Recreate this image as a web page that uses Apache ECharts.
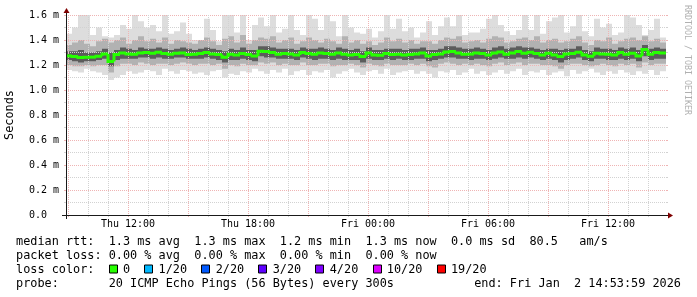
<!DOCTYPE html>
<html><head><meta charset="utf-8">
<script src="https://cdn.jsdelivr.net/npm/echarts@6/dist/echarts.min.js"></script>
<style>html,body{margin:0;padding:0;background:#fff}#c{width:697px;height:297px}</style>
</head><body><div id="c"></div>
<script>
// ---------- time frame (hours since Thu 00:00) ----------
const startHour = 8 + 53 / 60 + 59 / 3600;   // Thu 08:53:59
const spanHours = 30;                         // graph covers 30 h
const binHours = 0.3;                         // one smoke column = 18 min

// ---------- data (milliseconds) ----------
const medianMs = [
  1.273,1.268,1.260,1.263,1.263,1.271,1.289,1.228,1.284,1.297,1.289,1.287,1.297,1.300,1.295,1.303,1.292,1.287,1.295,1.297,
  1.284,1.287,1.292,1.300,1.289,1.284,1.263,1.287,1.281,1.292,1.284,1.273,1.311,1.308,1.300,1.287,1.292,1.289,1.281,1.300,
  1.292,1.287,1.297,1.292,1.287,1.297,1.287,1.281,1.284,1.268,1.297,1.281,1.279,1.292,1.284,1.287,1.281,1.284,1.289,1.297,
  1.273,1.284,1.289,1.305,1.308,1.297,1.287,1.287,1.297,1.292,1.281,1.297,1.305,1.287,1.297,1.308,1.295,1.303,1.292,1.281,
  1.295,1.281,1.268,1.289,1.292,1.303,1.281,1.271,1.295,1.289,1.287,1.281,1.300,1.287,1.295,1.273,1.324,1.287,1.300,1.297
];
const maxMs = [
  1.45,1.50,1.60,1.60,1.44,1.50,1.43,1.42,1.44,1.52,1.49,1.60,1.55,1.50,1.52,1.47,1.60,1.45,1.47,1.54,
  1.45,1.40,1.38,1.57,1.48,1.39,1.60,1.60,1.46,1.60,1.40,1.52,1.58,1.51,1.60,1.46,1.49,1.60,1.48,1.44,
  1.60,1.57,1.48,1.60,1.55,1.43,1.60,1.50,1.46,1.45,1.49,1.42,1.47,1.60,1.49,1.57,1.47,1.50,1.42,1.46,
  1.55,1.44,1.51,1.58,1.51,1.60,1.44,1.46,1.46,1.49,1.57,1.60,1.52,1.47,1.44,1.48,1.60,1.48,1.60,1.45,
  1.55,1.58,1.60,1.46,1.51,1.60,1.47,1.43,1.57,1.50,1.53,1.44,1.46,1.60,1.58,1.52,1.44,1.48,1.57,1.42
];
const hi2Ms = [
  1.36,1.38,1.40,1.37,1.35,1.39,1.41,1.38,1.40,1.42,1.37,1.40,1.43,1.39,1.41,1.38,1.42,1.37,1.40,1.39,
  1.38,1.37,1.40,1.42,1.39,1.36,1.41,1.43,1.38,1.44,1.37,1.40,1.42,1.41,1.43,1.38,1.40,1.42,1.37,1.39,
  1.42,1.40,1.38,1.41,1.39,1.37,1.43,1.38,1.40,1.37,1.39,1.36,1.38,1.42,1.39,1.41,1.38,1.40,1.37,1.39,
  1.39,1.37,1.40,1.42,1.41,1.43,1.38,1.39,1.40,1.38,1.41,1.43,1.42,1.38,1.39,1.41,1.42,1.40,1.43,1.38,
  1.40,1.41,1.38,1.39,1.41,1.43,1.38,1.36,1.40,1.39,1.42,1.37,1.39,1.41,1.42,1.40,1.43,1.39,1.41,1.38
];
const hi3Ms = [
  1.31,1.31,1.32,1.30,1.30,1.31,1.33,1.30,1.32,1.34,1.33,1.32,1.34,1.33,1.33,1.34,1.33,1.32,1.33,1.34,
  1.33,1.32,1.33,1.34,1.33,1.32,1.31,1.33,1.32,1.34,1.32,1.32,1.35,1.35,1.34,1.33,1.33,1.33,1.32,1.34,
  1.33,1.33,1.34,1.33,1.32,1.34,1.33,1.32,1.33,1.31,1.34,1.32,1.32,1.33,1.33,1.33,1.32,1.33,1.33,1.34,
  1.32,1.32,1.33,1.35,1.35,1.34,1.33,1.33,1.34,1.33,1.32,1.34,1.35,1.33,1.34,1.35,1.34,1.34,1.33,1.32,
  1.33,1.33,1.32,1.33,1.33,1.35,1.32,1.31,1.34,1.33,1.33,1.32,1.34,1.33,1.34,1.32,1.36,1.33,1.34,1.33
];
const lo3Ms = [
  1.24,1.23,1.22,1.23,1.23,1.24,1.25,1.19,1.24,1.25,1.25,1.25,1.26,1.26,1.25,1.26,1.25,1.25,1.26,1.26,
  1.25,1.25,1.25,1.26,1.25,1.24,1.22,1.24,1.24,1.25,1.24,1.23,1.27,1.26,1.26,1.25,1.25,1.25,1.24,1.26,
  1.25,1.24,1.25,1.25,1.24,1.25,1.24,1.24,1.24,1.22,1.25,1.24,1.24,1.25,1.24,1.25,1.24,1.24,1.25,1.25,
  1.23,1.24,1.25,1.26,1.26,1.25,1.25,1.24,1.25,1.25,1.24,1.25,1.26,1.25,1.25,1.26,1.25,1.26,1.25,1.24,
  1.25,1.24,1.22,1.24,1.25,1.26,1.24,1.23,1.25,1.25,1.24,1.24,1.25,1.24,1.25,1.23,1.27,1.24,1.25,1.25
];
const lo2Ms = [
  1.20,1.19,1.19,1.20,1.19,1.20,1.20,1.14,1.19,1.21,1.21,1.20,1.22,1.21,1.20,1.21,1.21,1.20,1.21,1.22,
  1.21,1.20,1.21,1.21,1.20,1.21,1.17,1.20,1.19,1.21,1.20,1.20,1.22,1.21,1.22,1.20,1.21,1.20,1.20,1.22,
  1.20,1.20,1.21,1.21,1.19,1.20,1.20,1.21,1.20,1.18,1.21,1.20,1.19,1.21,1.20,1.20,1.20,1.21,1.20,1.21,
  1.19,1.18,1.21,1.22,1.21,1.20,1.21,1.20,1.21,1.20,1.19,1.21,1.22,1.20,1.21,1.22,1.20,1.21,1.21,1.20,
  1.20,1.19,1.17,1.20,1.21,1.21,1.20,1.19,1.20,1.21,1.20,1.19,1.21,1.20,1.21,1.18,1.22,1.20,1.21,1.21
];
const minMs = [
  1.16,1.15,1.14,1.17,1.15,1.14,1.12,1.08,1.10,1.12,1.15,1.13,1.14,1.16,1.15,1.12,1.17,1.15,1.13,1.16,
  1.15,1.13,1.14,1.12,1.15,1.16,1.10,1.13,1.12,1.15,1.14,1.17,1.15,1.13,1.16,1.14,1.17,1.12,1.15,1.16,
  1.12,1.15,1.14,1.16,1.10,1.13,1.15,1.17,1.14,1.12,1.15,1.16,1.13,1.17,1.12,1.14,1.15,1.16,1.13,1.15,
  1.13,1.10,1.15,1.14,1.16,1.12,1.14,1.17,1.13,1.15,1.12,1.14,1.16,1.13,1.15,1.17,1.12,1.15,1.14,1.16,
  1.12,1.14,1.15,1.11,1.16,1.13,1.15,1.17,1.14,1.12,1.15,1.13,1.16,1.14,1.12,1.15,1.13,1.16,1.12,1.15
];

// ---------- axis ticks ----------
const xLabelHours = [12, 18, 24, 30, 36];
const xLabels = ['Thu 12:00', 'Thu 18:00', 'Fri 00:00', 'Fri 06:00', 'Fri 12:00'];
const xMajorHours = [9, 12, 15, 18, 21, 24, 27, 30, 33, 36];
const xMinorHours = [10, 11, 13, 14, 16, 17, 19, 20, 22, 23, 25, 26, 28, 29, 31, 32, 34, 35, 37, 38];
const yMax = 1.6, yStep = 0.2;

// ---------- legend texts ----------
const yTitle = 'Seconds';
const watermark = 'RRDTOOL / TOBI OETIKER';
const statsLine = 'median rtt:  1.3 ms avg  1.3 ms max  1.2 ms min  1.3 ms now  0.0 ms sd  80.5   am/s';
const lossLine = 'packet loss: 0.00 % avg  0.00 % max  0.00 % min  0.00 % now';
const lossColorTitle = 'loss color:';
const lossLabels = ['0', '1/20', '2/20', '3/20', '4/20', '10/20', '19/20'];
const lossColors = ['#26ff00', '#00b8ff', '#0059ff', '#5e00ff', '#7e00ff', '#dd00ff', '#ff0000'];
const probeLine = 'probe:       20 ICMP Echo Pings (56 Bytes) every 300s';
const endLine = 'end: Fri Jan  2 14:53:59 2026';

// ---------- layout ----------
const GL = 66, GT = 15, GW = 600, GH = 200;
const MONO = '"DejaVu Sans Mono", monospace';
const AX_FS = 10, LEG_FS = 11.85;
const MAJOR_COL = '#efb4b4', MINOR_COL = '#d2d2d2';

const mctx = document.createElement('canvas').getContext('2d');
mctx.font = LEG_FS + 'px ' + MONO;
const CW = mctx.measureText('0000000000').width / 10;

const chart = echarts.init(document.getElementById('c'), null, {renderer: 'canvas'});

const smokeData = medianMs.map((m, i) => [startHour + i * binHours, minMs[i], lo2Ms[i], lo3Ms[i], hi3Ms[i], hi2Ms[i], maxMs[i]]);
const medData = medianMs.map((m, i) => [startHour + i * binHours, m]);

function smokeItem(params, api) {
  const t0 = api.value(0), t1 = t0 + binHours;
  const pairs = [[1, 6, '#dddddd'], [2, 5, '#b2b2b2'], [3, 4, '#5c5c5c']];
  return {
    type: 'group',
    children: pairs.map(([a, b, c]) => {
      const p0 = api.coord([t0, api.value(b)]);
      const p1 = api.coord([t1, api.value(a)]);
      return {type: 'rect', shape: {x: p0[0], y: p0[1], width: p1[0] - p0[0], height: p1[1] - p0[1]}, style: {fill: c}};
    })
  };
}
function medItem(params, api) {
  const i = params.dataIndex;
  const t0 = api.value(0), t1 = t0 + binHours, m = api.value(1);
  const prev = i > 0 ? medianMs[i - 1] : m;
  const a = api.coord([t0, prev]), b = api.coord([t0, m]), c = api.coord([t1, m]);
  return {type: 'polyline', shape: {points: [a, b, c]},
    style: {stroke: lossColors[0], lineWidth: 3, fill: null, lineCap: 'butt', lineJoin: 'miter'}};
}

const gridAxisCommon = {
  type: 'value', min: startHour, max: startHour + spanHours, position: 'bottom',
  axisLine: {show: false}, axisLabel: {show: false}, z: 5
};

// legend graphics
const graphics = [];
const rows = [241.5, 255.5, 269.5, 283.5];
const txt = (x, y, s, extra) => Object.assign({type: 'text', x, y, z: 100,
  style: {text: s, font: LEG_FS + 'px ' + MONO, fill: '#000', textAlign: 'left', textVerticalAlign: 'middle'}}, extra || {});
graphics.push(txt(16, rows[0], statsLine));
graphics.push(txt(16, rows[1], lossLine));
graphics.push(txt(16, rows[2], lossColorTitle));
let col = 13;
lossLabels.forEach((lab, i) => {
  const bx = Math.round(16 + col * CW) + 0.5;
  graphics.push({type: 'rect', z: 100, shape: {x: bx, y: rows[2] - 4.5, width: 8, height: 8},
    style: {fill: lossColors[i], stroke: '#000', lineWidth: 1}});
  graphics.push(txt(16 + (col + 2) * CW, rows[2], lab));
  col += 2 + lab.length + 2;
});
graphics.push(txt(16, rows[3], probeLine));
const endG = txt(681, rows[3], endLine); endG.style.textAlign = 'right'; graphics.push(endG);

// y title & watermark
graphics.push({type: 'text', x: 10, y: GT + GH / 2, rotation: Math.PI / 2, z: 100,
  style: {text: yTitle, font: LEG_FS + 'px ' + MONO, fill: '#000', textAlign: 'center', textVerticalAlign: 'middle'}});
graphics.push({type: 'text', x: 687, y: 60, rotation: -Math.PI / 2, z: 100,
  style: {text: watermark, font: '8.3px ' + MONO, fill: '#b0b0b0', textAlign: 'center', textVerticalAlign: 'middle'}});

// axes lines and arrows
const Y0 = GT + GH + 0.5, X0 = GL + 0.5;
graphics.push({type: 'line', z: 90, shape: {x1: GL - 4, y1: Y0, x2: GL + GW + 4, y2: Y0}, style: {stroke: '#1a1a1a', lineWidth: 1}});
graphics.push({type: 'line', z: 90, shape: {x1: X0, y1: GT + GH + 4, x2: X0, y2: GT - 4}, style: {stroke: '#1a1a1a', lineWidth: 1}});
graphics.push({type: 'polygon', z: 91, shape: {points: [[GL + GW + 2, Y0 - 3], [GL + GW + 2, Y0 + 3], [GL + GW + 7, Y0]]}, style: {fill: '#7f0000'}});
graphics.push({type: 'polygon', z: 91, shape: {points: [[X0 - 3, GT - 2], [X0 + 3, GT - 2], [X0, GT - 7]]}, style: {fill: '#7f0000'}});

chart.setOption({
  backgroundColor: '#ffffff',
  animation: false,
  grid: {left: GL, top: GT, width: GW, height: GH, containLabel: false},
  xAxis: [
    Object.assign({}, gridAxisCommon, {
      axisTick: {show: true, customValues: xMinorHours, length: 2, lineStyle: {color: MINOR_COL}},
      splitLine: {show: true, lineStyle: {color: MINOR_COL, width: 1, type: [1, 1]}}
    }),
    Object.assign({}, gridAxisCommon, {
      axisTick: {show: true, customValues: xMajorHours, length: 2, lineStyle: {color: MAJOR_COL}},
      splitLine: {show: true, lineStyle: {color: MAJOR_COL, width: 1, type: [1, 1]}}
    }),
    Object.assign({}, gridAxisCommon, {
      axisTick: {show: false},
      splitLine: {show: false},
      axisLabel: {show: true, customValues: xLabelHours, formatter: v => xLabels[xLabelHours.indexOf(v)],
        fontFamily: MONO, fontSize: AX_FS, color: '#000', margin: 4}
    })
  ],
  yAxis: [
    {type: 'value', min: 0, max: yMax, interval: yStep, z: 5,
      axisLine: {show: false},
      axisTick: {show: true, length: 2, lineStyle: {color: MAJOR_COL}},
      minorTick: {show: true, splitNumber: 2, length: 2, lineStyle: {color: MINOR_COL}},
      splitLine: {show: true, lineStyle: {color: MAJOR_COL, width: 1, type: [1, 1]}},
      minorSplitLine: {show: true, lineStyle: {color: MINOR_COL, width: 1, type: [1, 1]}},
      axisLabel: {fontFamily: MONO, fontSize: AX_FS, color: '#000', margin: 7,
        formatter: v => v === 0 ? '0.0  ' : v.toFixed(1) + ' m'}},
    {type: 'value', min: 0, max: yMax, interval: yStep, position: 'right', z: 5,
      axisLine: {show: false}, axisLabel: {show: false}, splitLine: {show: false},
      axisTick: {show: true, length: 2, lineStyle: {color: MAJOR_COL}},
      minorTick: {show: true, splitNumber: 2, length: 2, lineStyle: {color: MINOR_COL}}}
  ],
  series: [
    {type: 'custom', renderItem: smokeItem, data: smokeData, xAxisIndex: 0, yAxisIndex: 0,
      encode: {x: 0, y: [1, 6]}, silent: true, z: 2},
    {type: 'custom', renderItem: medItem, data: medData, xAxisIndex: 0, yAxisIndex: 0,
      encode: {x: 0, y: 1}, silent: true, z: 8}
  ],
  graphic: graphics
});
</script></body></html>
